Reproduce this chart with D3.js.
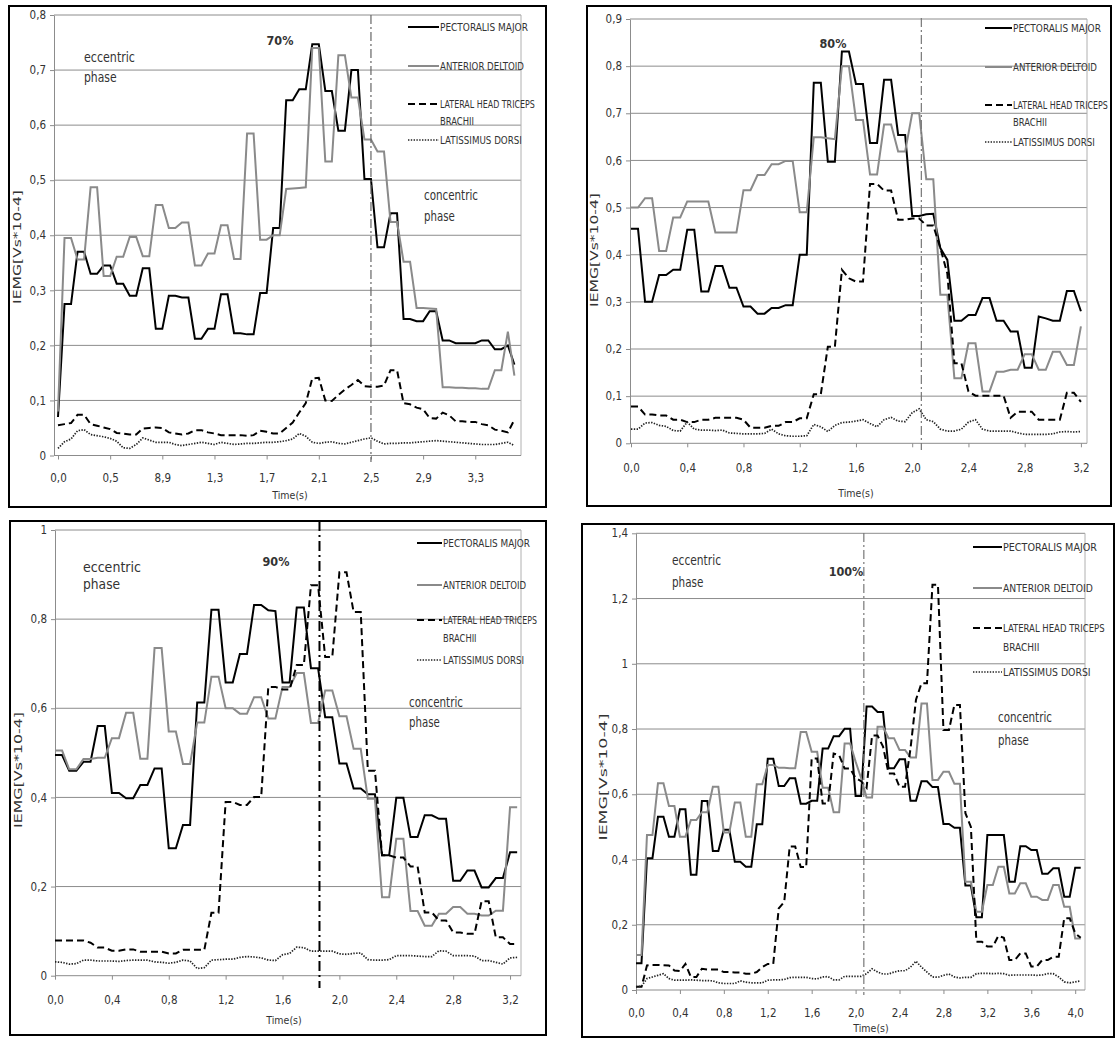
<!DOCTYPE html>
<html>
<head>
<meta charset="utf-8">
<script src="https://cdn.jsdelivr.net/npm/d3@7"></script>
<style>
  body { margin: 0; background: #fff; }
  svg text { font-family: "Liberation Sans Narrow", "DejaVu Sans Condensed", "Roboto Condensed", Arial, sans-serif; fill: #333; }
</style>
</head>
<body>
<svg id="chart" width="1115" height="1039"></svg>
<script>
const seriesNames = ['PECTORALIS MAJOR', 'ANTERIOR DELTOID', 'LATERAL HEAD TRICEPS', 'LATISSIMUS DORSI'];
const loadLabels = ['70%', '80%', '90%', '100%'];

// ---- 70% ----
const p70Pectoralis = [0.07, 0.275, 0.275, 0.37, 0.37, 0.33, 0.33, 0.345, 0.345, 0.312, 0.312, 0.29, 0.29, 0.34, 0.34, 0.23, 0.23, 0.29, 0.29, 0.287, 0.287, 0.212, 0.212, 0.23, 0.23, 0.293, 0.293, 0.222, 0.222, 0.22, 0.22, 0.295, 0.295, 0.413, 0.413, 0.645, 0.645, 0.665, 0.665, 0.747, 0.747, 0.662, 0.662, 0.59, 0.59, 0.70, 0.70, 0.502, 0.502, 0.378, 0.378, 0.44, 0.44, 0.248, 0.248, 0.244, 0.244, 0.262, 0.262, 0.209, 0.209, 0.204, 0.204, 0.204, 0.204, 0.209, 0.209, 0.193, 0.193, 0.2, 0.165];
const p70Deltoid = [0.08, 0.395, 0.395, 0.356, 0.356, 0.487, 0.487, 0.326, 0.326, 0.361, 0.361, 0.397, 0.397, 0.362, 0.362, 0.455, 0.455, 0.413, 0.413, 0.423, 0.423, 0.345, 0.345, 0.367, 0.367, 0.418, 0.418, 0.357, 0.357, 0.585, 0.585, 0.392, 0.392, 0.40, 0.40, 0.484, 0.485, 0.486, 0.487, 0.74, 0.74, 0.534, 0.534, 0.727, 0.727, 0.65, 0.65, 0.574, 0.574, 0.552, 0.552, 0.424, 0.424, 0.352, 0.352, 0.268, 0.268, 0.267, 0.266, 0.124, 0.124, 0.123, 0.123, 0.122, 0.122, 0.121, 0.121, 0.155, 0.155, 0.225, 0.145];
const p70Triceps = [0.055, 0.057, 0.059, 0.074, 0.074, 0.057, 0.054, 0.051, 0.048, 0.041, 0.04, 0.038, 0.038, 0.049, 0.05, 0.051, 0.05, 0.042, 0.04, 0.038, 0.04, 0.046, 0.046, 0.042, 0.04, 0.037, 0.037, 0.037, 0.037, 0.036, 0.037, 0.045, 0.043, 0.04, 0.04, 0.05, 0.06, 0.078, 0.095, 0.14, 0.141, 0.1, 0.099, 0.11, 0.12, 0.128, 0.137, 0.126, 0.125, 0.125, 0.127, 0.155, 0.155, 0.095, 0.093, 0.087, 0.084, 0.068, 0.067, 0.078, 0.073, 0.062, 0.062, 0.061, 0.061, 0.057, 0.055, 0.047, 0.045, 0.042, 0.065];
const p70Latissimus = [0.013, 0.025, 0.03, 0.045, 0.047, 0.038, 0.036, 0.034, 0.031, 0.026, 0.014, 0.013, 0.02, 0.032, 0.028, 0.024, 0.024, 0.024, 0.02, 0.018, 0.02, 0.022, 0.024, 0.022, 0.02, 0.024, 0.022, 0.02, 0.021, 0.022, 0.022, 0.023, 0.024, 0.024, 0.025, 0.027, 0.03, 0.04, 0.035, 0.024, 0.022, 0.024, 0.025, 0.022, 0.021, 0.024, 0.027, 0.03, 0.032, 0.026, 0.021, 0.022, 0.022, 0.023, 0.023, 0.024, 0.025, 0.026, 0.027, 0.026, 0.025, 0.024, 0.023, 0.022, 0.021, 0.02, 0.02, 0.02, 0.022, 0.024, 0.018];
const p70XLabels = ['0,0', '0,5', '8,9', '1,3', '1,7', '2,1', '2,5', '2,9', '3,3'];
const p70YTicks = [0, 0.1, 0.2, 0.3, 0.4, 0.5, 0.6, 0.7, 0.8];
const p70Split = 48;

// ---- 80% ----
const p80Pectoralis = [0.455, 0.455, 0.30, 0.30, 0.357, 0.357, 0.368, 0.368, 0.453, 0.453, 0.322, 0.322, 0.376, 0.376, 0.33, 0.33, 0.29, 0.29, 0.275, 0.275, 0.287, 0.287, 0.293, 0.293, 0.40, 0.40, 0.765, 0.765, 0.597, 0.597, 0.831, 0.831, 0.762, 0.762, 0.637, 0.637, 0.771, 0.771, 0.654, 0.654, 0.482, 0.482, 0.486, 0.487, 0.414, 0.389, 0.26, 0.26, 0.272, 0.272, 0.308, 0.308, 0.26, 0.26, 0.237, 0.237, 0.16, 0.16, 0.269, 0.265, 0.26, 0.26, 0.323, 0.323, 0.28];
const p80Deltoid = [0.50, 0.50, 0.52, 0.52, 0.408, 0.408, 0.479, 0.479, 0.513, 0.513, 0.513, 0.513, 0.447, 0.447, 0.447, 0.447, 0.537, 0.537, 0.569, 0.569, 0.592, 0.592, 0.599, 0.599, 0.49, 0.49, 0.649, 0.649, 0.647, 0.645, 0.8, 0.8, 0.686, 0.686, 0.57, 0.57, 0.676, 0.676, 0.619, 0.619, 0.70, 0.70, 0.56, 0.56, 0.315, 0.315, 0.138, 0.138, 0.212, 0.212, 0.11, 0.11, 0.152, 0.152, 0.156, 0.156, 0.189, 0.189, 0.156, 0.156, 0.194, 0.194, 0.166, 0.166, 0.248];
const p80Triceps = [0.078, 0.078, 0.061, 0.061, 0.059, 0.059, 0.05, 0.05, 0.045, 0.045, 0.05, 0.05, 0.054, 0.054, 0.054, 0.054, 0.05, 0.033, 0.033, 0.033, 0.037, 0.037, 0.045, 0.045, 0.053, 0.053, 0.104, 0.104, 0.205, 0.205, 0.368, 0.35, 0.343, 0.343, 0.55, 0.55, 0.536, 0.536, 0.474, 0.474, 0.477, 0.477, 0.462, 0.462, 0.414, 0.36, 0.17, 0.17, 0.11, 0.101, 0.101, 0.101, 0.101, 0.101, 0.054, 0.067, 0.067, 0.067, 0.05, 0.05, 0.05, 0.05, 0.107, 0.107, 0.088];
const p80Latissimus = [0.03, 0.03, 0.043, 0.044, 0.038, 0.036, 0.027, 0.026, 0.045, 0.03, 0.028, 0.028, 0.027, 0.028, 0.022, 0.021, 0.02, 0.02, 0.02, 0.021, 0.03, 0.02, 0.016, 0.015, 0.015, 0.016, 0.04, 0.035, 0.025, 0.038, 0.044, 0.045, 0.047, 0.05, 0.042, 0.035, 0.05, 0.055, 0.047, 0.046, 0.065, 0.073, 0.05, 0.046, 0.03, 0.026, 0.026, 0.03, 0.045, 0.05, 0.03, 0.026, 0.026, 0.026, 0.026, 0.022, 0.019, 0.019, 0.019, 0.019, 0.02, 0.024, 0.025, 0.024, 0.025];
const p80XLabels = ['0,0', '0,4', '0,8', '1,2', '1,6', '2,0', '2,4', '2,8', '3,2'];
const p80YTicks = [0, 0.1, 0.2, 0.3, 0.4, 0.5, 0.6, 0.7, 0.8, 0.9];
const p80Split = 41.3;

// ---- 90% ----
const p90Pectoralis = [0.495, 0.495, 0.46, 0.46, 0.48, 0.48, 0.56, 0.56, 0.41, 0.41, 0.398, 0.398, 0.428, 0.428, 0.465, 0.465, 0.286, 0.286, 0.338, 0.338, 0.613, 0.613, 0.821, 0.821, 0.658, 0.658, 0.722, 0.722, 0.832, 0.832, 0.82, 0.818, 0.658, 0.658, 0.826, 0.826, 0.69, 0.69, 0.58, 0.58, 0.476, 0.476, 0.42, 0.42, 0.407, 0.407, 0.27, 0.27, 0.399, 0.399, 0.311, 0.311, 0.36, 0.36, 0.352, 0.352, 0.213, 0.213, 0.236, 0.236, 0.198, 0.198, 0.219, 0.219, 0.277, 0.277];
const p90Deltoid = [0.505, 0.505, 0.463, 0.463, 0.486, 0.486, 0.489, 0.489, 0.533, 0.533, 0.59, 0.59, 0.487, 0.487, 0.735, 0.735, 0.548, 0.548, 0.475, 0.475, 0.568, 0.568, 0.671, 0.671, 0.6, 0.6, 0.588, 0.588, 0.625, 0.625, 0.577, 0.577, 0.648, 0.648, 0.679, 0.679, 0.567, 0.567, 0.64, 0.64, 0.582, 0.582, 0.509, 0.509, 0.397, 0.397, 0.176, 0.176, 0.307, 0.307, 0.145, 0.145, 0.112, 0.112, 0.139, 0.139, 0.154, 0.154, 0.139, 0.139, 0.135, 0.135, 0.146, 0.146, 0.378, 0.378];
const p90Triceps = [0.079, 0.079, 0.079, 0.079, 0.079, 0.074, 0.063, 0.063, 0.056, 0.056, 0.059, 0.059, 0.054, 0.054, 0.054, 0.054, 0.05, 0.05, 0.058, 0.058, 0.058, 0.058, 0.141, 0.141, 0.39, 0.39, 0.383, 0.383, 0.401, 0.401, 0.648, 0.648, 0.642, 0.642, 0.697, 0.697, 0.876, 0.876, 0.715, 0.715, 0.905, 0.905, 0.816, 0.816, 0.46, 0.46, 0.27, 0.27, 0.265, 0.265, 0.245, 0.245, 0.142, 0.142, 0.124, 0.124, 0.097, 0.097, 0.094, 0.094, 0.167, 0.167, 0.086, 0.086, 0.071, 0.071];
const p90Latissimus = [0.031, 0.03, 0.026, 0.027, 0.035, 0.035, 0.033, 0.033, 0.033, 0.032, 0.034, 0.035, 0.035, 0.035, 0.031, 0.03, 0.028, 0.03, 0.035, 0.033, 0.016, 0.018, 0.035, 0.036, 0.037, 0.037, 0.041, 0.043, 0.042, 0.04, 0.035, 0.034, 0.047, 0.05, 0.064, 0.063, 0.055, 0.055, 0.055, 0.055, 0.049, 0.048, 0.05, 0.051, 0.036, 0.035, 0.035, 0.036, 0.045, 0.045, 0.045, 0.044, 0.043, 0.043, 0.056, 0.055, 0.045, 0.045, 0.045, 0.044, 0.034, 0.034, 0.03, 0.026, 0.04, 0.041];
const p90XLabels = ['0,0', '0,4', '0,8', '1,2', '1,6', '2,0', '2,4', '2,8', '3,2'];
const p90YTicks = [0, 0.2, 0.4, 0.6, 0.8, 1];
const p90Split = 37.2;

// ---- 100% ----
const p100Pectoralis = [0.082, 0.082, 0.404, 0.404, 0.531, 0.531, 0.47, 0.47, 0.554, 0.554, 0.353, 0.353, 0.579, 0.579, 0.426, 0.426, 0.491, 0.491, 0.393, 0.393, 0.378, 0.378, 0.508, 0.508, 0.709, 0.709, 0.625, 0.625, 0.649, 0.649, 0.571, 0.571, 0.58, 0.58, 0.74, 0.74, 0.778, 0.778, 0.801, 0.801, 0.595, 0.595, 0.869, 0.869, 0.852, 0.852, 0.68, 0.68, 0.707, 0.707, 0.58, 0.58, 0.64, 0.64, 0.622, 0.622, 0.509, 0.509, 0.497, 0.497, 0.32, 0.32, 0.223, 0.223, 0.475, 0.475, 0.475, 0.475, 0.332, 0.332, 0.441, 0.441, 0.429, 0.429, 0.356, 0.356, 0.373, 0.373, 0.286, 0.286, 0.375, 0.375];
const p100Deltoid = [0.107, 0.107, 0.475, 0.475, 0.634, 0.634, 0.564, 0.564, 0.47, 0.47, 0.521, 0.521, 0.545, 0.545, 0.623, 0.623, 0.483, 0.483, 0.575, 0.575, 0.47, 0.47, 0.631, 0.631, 0.69, 0.69, 0.681, 0.681, 0.68, 0.68, 0.791, 0.791, 0.73, 0.73, 0.62, 0.62, 0.545, 0.545, 0.756, 0.756, 0.7, 0.65, 0.59, 0.59, 0.807, 0.807, 0.772, 0.772, 0.736, 0.736, 0.713, 0.713, 0.878, 0.878, 0.644, 0.644, 0.669, 0.669, 0.632, 0.632, 0.332, 0.332, 0.24, 0.24, 0.322, 0.322, 0.378, 0.378, 0.296, 0.296, 0.327, 0.327, 0.286, 0.286, 0.276, 0.276, 0.322, 0.322, 0.255, 0.255, 0.158, 0.158];
const p100Triceps = [0.01, 0.01, 0.075, 0.077, 0.077, 0.076, 0.075, 0.06, 0.058, 0.08, 0.04, 0.04, 0.065, 0.063, 0.063, 0.063, 0.055, 0.055, 0.054, 0.054, 0.05, 0.05, 0.055, 0.07, 0.08, 0.08, 0.25, 0.27, 0.44, 0.44, 0.377, 0.377, 0.71, 0.71, 0.572, 0.572, 0.725, 0.72, 0.679, 0.679, 0.65, 0.64, 0.62, 0.78, 0.78, 0.746, 0.664, 0.664, 0.623, 0.623, 0.74, 0.89, 0.94, 0.94, 1.242, 1.242, 0.797, 0.797, 0.874, 0.874, 0.542, 0.5, 0.148, 0.148, 0.133, 0.133, 0.166, 0.16, 0.092, 0.092, 0.112, 0.112, 0.072, 0.072, 0.092, 0.092, 0.102, 0.102, 0.22, 0.22, 0.174, 0.16];
const p100Latissimus = [0.01, 0.012, 0.035, 0.04, 0.045, 0.05, 0.035, 0.03, 0.03, 0.03, 0.031, 0.03, 0.029, 0.029, 0.028, 0.022, 0.02, 0.02, 0.02, 0.028, 0.024, 0.022, 0.022, 0.022, 0.03, 0.031, 0.031, 0.032, 0.038, 0.039, 0.039, 0.039, 0.035, 0.034, 0.04, 0.041, 0.031, 0.031, 0.042, 0.042, 0.042, 0.042, 0.05, 0.065, 0.055, 0.049, 0.049, 0.055, 0.059, 0.059, 0.07, 0.088, 0.07, 0.055, 0.04, 0.039, 0.045, 0.049, 0.04, 0.037, 0.039, 0.039, 0.05, 0.051, 0.051, 0.05, 0.051, 0.05, 0.045, 0.046, 0.046, 0.046, 0.046, 0.045, 0.046, 0.05, 0.05, 0.04, 0.025, 0.022, 0.025, 0.028];
const p100XLabels = ['0,0', '0,4', '0,8', '1,2', '1,6', '2,0', '2,4', '2,8', '3,2', '3,6', '4,0'];
const p100YTicks = [0, 0.2, 0.4, 0.6, 0.8, 1, 1.2, 1.4];
const p100Split = 41.5;

const labelEvery = 8;
const comma = d3.formatLocale({decimal: ',', thousands: '.', grouping: [3], currency: ['', '']}).format('~f');

const lineStyles = [
  {stroke: '#000', width: 2, dash: null},
  {stroke: '#8a8a8a', width: 2, dash: null},
  {stroke: '#000', width: 2, dash: '7,4'},
  {stroke: '#222', width: 1.7, dash: '1.4,1.4'},
];
const legendWidths = [88, 84, 95, 34, 82];

const panels = [
  {series: [p70Pectoralis, p70Deltoid, p70Triceps, p70Latissimus], xLabels: p70XLabels, yTicks: p70YTicks, split: p70Split, load: loadLabels[0],
   frame: [9, 6, 546, 507], x0: 58, step: 6.52, axisX: 54, plotRight: 521, yTop: 15, yBottom: 455.5,
   splitStyle: {stroke: '#666', width: 1.2, dash: '9,3,2,3', y1: 15, y2: 462},
   xLabelDy: 22.5, time: [290, 495], yTitle: [17, 247, 114],
   legend: {lineX: 408, textX: 440, rows: [27, 66, 104, 121, 140], scale: 1, size: 10.5},
   loadPos: [280, 41], ecc: {x: 84, y: 57, dy: 20, w: 51}, con: {x: 424, y: 195, dy: 21, w: 54}},
  {series: [p80Pectoralis, p80Deltoid, p80Triceps, p80Latissimus], xLabels: p80XLabels, yTicks: p80YTicks, split: p80Split, load: loadLabels[1],
   frame: [587, 6, 1111, 506], x0: 631, step: 7.03, axisX: 630, plotRight: 1087, yTop: 19, yBottom: 443.3,
   splitStyle: {stroke: '#777', width: 1.2, dash: '9,3,2,3', y1: 18, y2: 450},
   xLabelDy: 25, time: [856, 493], yTitle: [594, 250, 114],
   legend: {lineX: 985, textX: 1013, rows: [28, 67, 105, 122, 142], scale: 1, size: 10.5},
   loadPos: [833, 44], ecc: null, con: null},
  {series: [p90Pectoralis, p90Deltoid, p90Triceps, p90Latissimus], xLabels: p90XLabels, yTicks: p90YTicks, split: p90Split, load: loadLabels[2],
   frame: [10, 521, 546, 1035], x0: 55, step: 7.11, axisX: 55, plotRight: 521, yTop: 530, yBottom: 975.7,
   splitStyle: {stroke: '#000', width: 2, dash: '10,4,2,4', y1: 521, y2: 988},
   xLabelDy: 24, time: [284, 1020], yTitle: [18, 770, 116],
   legend: {lineX: 417, textX: 443, rows: [543, 585, 620, 638, 660], scale: 0.99, size: 10.5},
   loadPos: [276, 562], ecc: {x: 83, y: 567, dy: 17, w: 58}, con: {x: 409, y: 702, dy: 20, w: 54}},
  {series: [p100Pectoralis, p100Deltoid, p100Triceps, p100Latissimus], xLabels: p100XLabels, yTicks: p100YTicks, split: p100Split, load: loadLabels[3],
   frame: [582, 524, 1114, 1037], x0: 636, step: 5.49, axisX: 636, plotRight: 1085, yTop: 533.3, yBottom: 990,
   splitStyle: {stroke: '#777', width: 1.2, dash: '9,3,2,3', y1: 533, y2: 995},
   xLabelDy: 23, time: [871, 1028], yTitle: [603, 777, 127],
   legend: {lineX: 973, textX: 1003, rows: [547, 588, 628, 647, 672], scale: 1.07, size: 11},
   loadPos: [846, 572], ecc: {x: 672, y: 560, dy: 22, w: 49}, con: {x: 998, y: 717, dy: 23, w: 54}},
];

const svg = d3.select('#chart');

/** Squeeze a left-anchored text horizontally to a given width, keeping its height */
const fitText = (sel, x, y, width, rotate) => {
  const natural = sel.node().getComputedTextLength();
  const sx = natural > 0 ? width / natural : 1;
  sel.attr('transform', `translate(${x},${y})${rotate ? ' rotate(-90)' : ''} scale(${sx},1)`);
  return sel;
};

const drawPanel = p => {
  const g = svg.append('g');
  const n = p.series[0].length;
  const x = d3.scaleLinear().domain([0, n - 1]).range([p.x0, p.x0 + p.step * (n - 1)]);
  const yMax = p.yTicks[p.yTicks.length - 1];
  const y = d3.scaleLinear().domain([0, yMax]).range([p.yBottom, p.yTop]);

  // gridlines
  g.selectAll('.grid').data(p.yTicks.filter(d => d > 0)).enter().append('line')
    .attr('x1', p.axisX).attr('x2', p.plotRight)
    .attr('y1', d => y(d)).attr('y2', d => y(d))
    .attr('stroke', '#8c8c8c').attr('stroke-width', 1);
  g.append('line').attr('x1', p.plotRight).attr('x2', p.plotRight).attr('y1', p.yTop).attr('y2', p.yBottom)
    .attr('stroke', '#b0b0b0').attr('stroke-width', 1);

  // y axis
  const yAxis = g.append('g').attr('transform', `translate(${p.axisX},0)`)
    .call(d3.axisLeft(y).tickValues(p.yTicks).tickFormat(comma).tickSize(4).tickSizeOuter(0).tickPadding(4));
  yAxis.select('.domain').attr('stroke', '#8c8c8c');
  yAxis.selectAll('.tick line').attr('stroke', '#8c8c8c');
  yAxis.selectAll('text').attr('font-size', 11.5).attr('fill', '#333');

  // x axis
  const xAxis = g.append('g').attr('transform', `translate(0,${p.yBottom})`)
    .call(d3.axisBottom(x).tickValues(d3.range(0, n, labelEvery)).tickFormat((d, i) => p.xLabels[i]).tickSize(4).tickSizeOuter(0));
  xAxis.select('.domain').remove();
  xAxis.selectAll('.tick line').attr('stroke', '#8c8c8c');
  xAxis.selectAll('text').attr('font-size', 11.5).attr('fill', '#333').attr('y', p.xLabelDy).attr('dy', '0.35em');
  g.append('line').attr('x1', p.axisX).attr('x2', p.plotRight).attr('y1', p.yBottom).attr('y2', p.yBottom)
    .attr('stroke', '#8c8c8c');

  // series
  const line = d3.line().x((d, i) => x(i)).y(d => y(d));
  p.series.forEach((values, k) => {
    const s = lineStyles[k];
    g.append('path').datum(values).attr('d', line)
      .attr('fill', 'none').attr('stroke', s.stroke).attr('stroke-width', s.width)
      .attr('stroke-dasharray', s.dash).attr('stroke-linejoin', 'miter');
  });

  // phase split
  const ss = p.splitStyle;
  g.append('line').attr('x1', x(p.split)).attr('x2', x(p.split)).attr('y1', ss.y1).attr('y2', ss.y2)
    .attr('stroke', ss.stroke).attr('stroke-width', ss.width).attr('stroke-dasharray', ss.dash);

  // legend
  const lg = p.legend;
  const rowOf = [0, 1, 2, 4];
  p.series.forEach((values, k) => {
    const s = lineStyles[k];
    const ly = lg.rows[rowOf[k]];
    g.append('line').attr('x1', lg.lineX).attr('x2', lg.textX - 1).attr('y1', ly).attr('y2', ly)
      .attr('stroke', s.stroke).attr('stroke-width', s.width).attr('stroke-dasharray', s.dash);
  });
  const legendTexts = [seriesNames[0], seriesNames[1], seriesNames[2], 'BRACHII', seriesNames[3]];
  legendTexts.forEach((t, j) => {
    const txt = g.append('text').attr('dy', '0.35em').attr('font-size', lg.size).attr('fill', '#333').text(t);
    fitText(txt, lg.textX, lg.rows[j], legendWidths[j] * lg.scale);
  });

  // texts
  g.append('text').attr('x', p.loadPos[0]).attr('y', p.loadPos[1]).attr('dy', '0.35em')
    .attr('text-anchor', 'middle').attr('font-size', 12.5).attr('font-weight', 'bold').attr('fill', '#333')
    .text(p.load);
  const phaseText = (cfg, word, ratio) => {
    const a = g.append('text').attr('dy', '0.35em').attr('font-size', 14).attr('fill', '#1a1a1a').text(word);
    fitText(a, cfg.x, cfg.y, cfg.w);
    const b = g.append('text').attr('dy', '0.35em').attr('font-size', 14).attr('fill', '#1a1a1a').text('phase');
    fitText(b, cfg.x, cfg.y + cfg.dy, cfg.w * ratio);
  };
  if (p.ecc) phaseText(p.ecc, 'eccentric', 0.64);
  if (p.con) phaseText(p.con, 'concentric', 0.57);

  g.append('text').attr('x', p.time[0]).attr('y', p.time[1]).attr('dy', '0.35em').attr('text-anchor', 'middle')
    .attr('font-size', 10.5).attr('fill', '#333').text('Time(s)');
  const yTitle = g.append('text').attr('text-anchor', 'middle').attr('dy', '0.35em')
    .attr('font-size', 10.5).attr('fill', '#333').text('IEMG[Vs*10-4]');
  fitText(yTitle, p.yTitle[0], p.yTitle[1], p.yTitle[2], true);

  // frame
  const [fx1, fy1, fx2, fy2] = p.frame;
  g.append('rect').attr('x', fx1).attr('y', fy1).attr('width', fx2 - fx1).attr('height', fy2 - fy1)
    .attr('fill', 'none').attr('stroke', '#000').attr('stroke-width', 2);
};

panels.forEach(drawPanel);
</script>
</body>
</html>
